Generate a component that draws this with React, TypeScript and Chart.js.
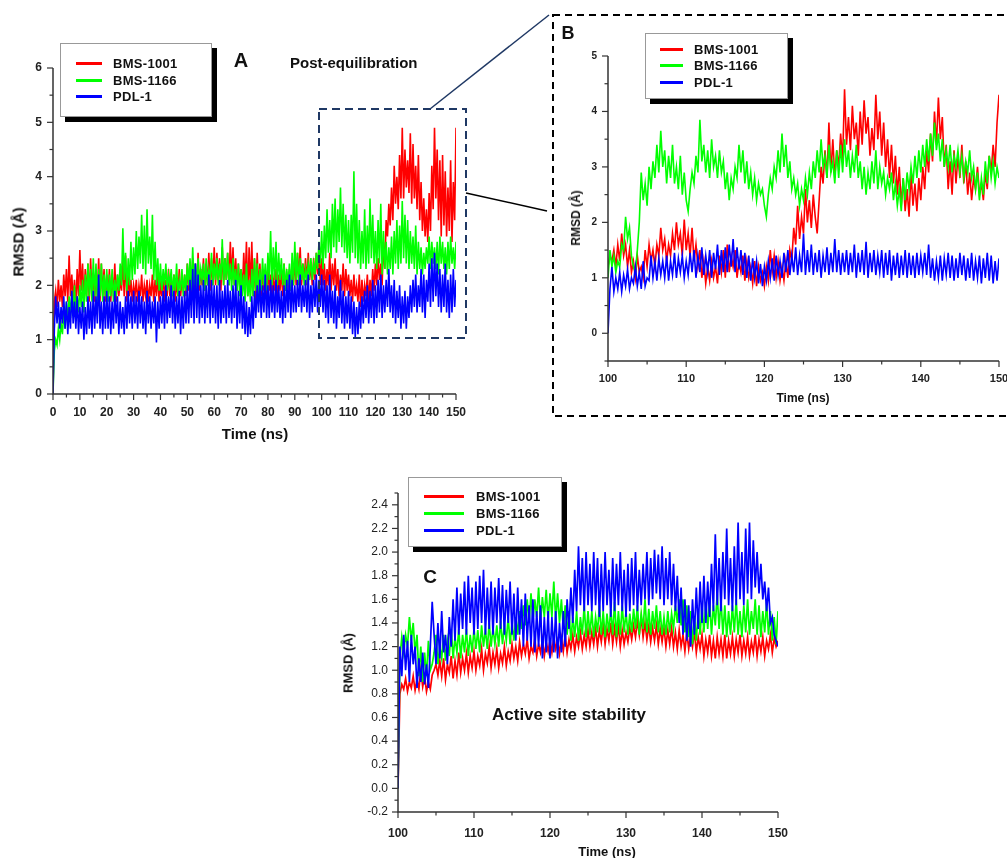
import React, { useEffect, useRef } from 'react';
import { Chart, registerables } from 'chart.js';
Chart.register(...registerables);

// ---------- names / colours ----------
const seriesNames = ['BMS-1001', 'BMS-1166', 'PDL-1'];
const seriesColors = ['#ff0000', '#00ff00', '#0000ff'];

// ---------- Panel A : 0-150 ns, sampled every 0.5 ns ----------
const stepA = 0.5;
const startA = 0;
const rmsdA_BMS1001 = [
  0,
  1.7, 1.9, 1.6, 2.1, 1.7, 2.0, 1.6, 2.2, 1.8, 2.3, 1.7, 2.55, 1.8, 2.2, 1.7, 2.1, 1.6, 2.3, 1.8, 2.65,
  1.9, 2.4, 1.7, 2.3, 1.8, 2.4, 1.7, 2.5, 1.8, 2.2, 1.7, 2.3, 1.8, 2.5, 1.7, 2.4, 1.8, 2.3, 1.7, 2.2,
  1.8, 2.3, 1.7, 2.2, 1.8, 2.4, 1.7, 2.2, 1.8, 2.1, 1.9, 2.5, 1.8, 2.55, 1.7, 2.2, 1.8, 2.1, 1.7, 2.0,
  1.8, 2.1, 1.7, 2.0, 1.8, 2.2, 1.7, 2.0, 1.8, 2.1, 1.7, 2.0, 1.8, 2.2, 1.7, 2.1, 1.8, 2.2, 1.7, 2.0,
  1.8, 2.2, 1.7, 2.1, 1.8, 2.3, 1.8, 2.1, 1.9, 2.2, 1.7, 2.1, 1.8, 2.3, 1.8, 2.1, 1.9, 2.2, 1.8, 2.4,
  1.9, 2.3, 1.8, 2.5, 1.9, 2.4, 1.8, 2.6, 1.9, 2.3, 2.0, 2.5, 1.9, 2.4, 2.0, 2.6, 1.9, 2.5, 2.0, 2.7,
  2.0, 2.6, 2.1, 2.5, 1.9, 2.7, 2.0, 2.5, 2.1, 2.6, 2.0, 2.8, 2.1, 2.7, 2.0, 2.5, 1.9, 2.4, 2.0, 2.3,
  1.9, 2.6, 2.0, 2.8, 1.8, 2.7, 1.9, 2.8, 1.8, 2.5, 1.7, 2.6, 1.9, 2.4, 1.8, 2.3, 1.9, 2.2, 1.8, 2.3,
  1.9, 2.2, 1.8, 2.1, 1.9, 2.3, 1.8, 2.2, 1.9, 2.3, 1.8, 2.4, 1.9, 2.2, 2.0, 2.3, 1.9, 2.4, 2.0, 2.5,
  2.0, 2.6, 2.1, 2.7, 2.0, 2.4, 2.1, 2.5, 2.0, 2.6, 2.1, 2.4, 2.0, 2.5, 2.1, 2.6, 2.2, 2.7, 2.0, 2.5,
  2.0, 2.4, 1.9, 2.3, 2.0, 2.6, 1.9, 2.4, 2.0, 2.5, 1.9, 2.3, 1.8, 2.2, 1.9, 2.4, 1.8, 2.3, 1.9, 2.2,
  1.8, 2.1, 1.7, 2.2, 1.8, 2.0, 1.7, 2.2, 1.6, 2.1, 1.7, 2.0, 1.8, 2.2, 1.7, 2.1, 1.8, 2.3, 1.9, 2.4,
  2.0, 2.5, 2.1, 2.4, 2.0, 2.8, 2.3, 3.2, 2.9, 3.5, 3.1, 3.8, 3.2, 4.2, 3.5, 4.0, 3.4, 4.4, 3.6, 4.9,
  3.6, 4.5, 3.8, 4.3, 3.7, 4.8, 3.5, 4.6, 3.6, 4.2, 3.4, 4.4, 3.2, 3.9, 3.0, 3.6, 2.9, 3.4, 2.8, 3.7,
  3.0, 4.2, 3.4, 4.9, 3.6, 4.5, 3.2, 4.3, 2.9, 4.4, 3.1, 4.1, 2.9, 3.8, 3.0, 4.3, 2.8, 3.9, 3.2, 4.9,
];
const rmsdA_BMS1166 = [
  0,
  0.8, 1.0, 0.9, 1.2, 1.0, 1.3, 1.1, 1.5, 1.2, 1.7, 1.3, 1.8, 1.4, 1.9, 1.5, 2.0, 1.4, 1.8, 1.5, 2.0,
  1.6, 2.1, 1.5, 2.2, 1.7, 2.4, 1.8, 2.3, 1.7, 2.5, 1.8, 2.4, 1.7, 2.3, 1.8, 2.4, 1.7, 2.2, 1.8, 2.3,
  1.7, 2.2, 1.8, 2.3, 1.7, 2.1, 1.8, 2.2, 1.9, 2.4, 2.0, 3.05, 2.1, 2.6, 1.9, 2.5, 2.0, 2.8, 2.1, 2.7,
  2.2, 3.0, 2.3, 2.9, 2.4, 3.3, 2.3, 3.1, 2.2, 3.4, 2.4, 2.9, 2.3, 3.3, 2.1, 2.8, 2.0, 2.5, 1.9, 2.4,
  1.9, 2.3, 2.0, 2.4, 1.9, 2.2, 2.0, 2.3, 1.8, 2.2, 1.9, 2.4, 1.8, 2.1, 1.9, 2.3, 1.8, 2.2, 1.9, 2.4,
  2.0, 2.5, 1.9, 2.7, 2.0, 2.4, 1.9, 2.5, 2.0, 2.3, 2.1, 2.4, 1.9, 2.5, 2.0, 2.3, 2.1, 2.6, 2.0, 2.4,
  2.1, 2.5, 2.0, 2.4, 2.1, 2.85, 2.0, 2.5, 2.1, 2.6, 2.0, 2.4, 1.9, 2.5, 2.0, 2.3, 1.9, 2.4, 1.8, 2.3,
  1.8, 2.2, 1.7, 2.4, 1.8, 2.1, 1.7, 2.3, 1.8, 2.5, 1.9, 2.4, 1.8, 2.3, 1.9, 2.5, 2.0, 2.4, 1.9, 2.6,
  2.1, 3.0, 2.0, 2.7, 2.1, 2.8, 2.0, 2.6, 2.1, 2.5, 2.0, 2.4, 1.9, 2.3, 2.0, 2.4, 1.9, 2.6, 2.0, 2.8,
  2.1, 2.6, 2.0, 2.5, 2.1, 2.4, 2.0, 2.3, 2.1, 2.4, 2.2, 2.5, 2.1, 2.4, 2.2, 2.6, 2.3, 2.8, 2.4, 3.0,
  2.3, 3.1, 2.5, 3.4, 2.6, 3.2, 2.5, 3.5, 2.7, 3.6, 2.6, 3.4, 2.8, 3.8, 2.7, 3.5, 2.6, 3.3, 2.5, 3.2,
  2.4, 3.3, 2.6, 4.1, 2.5, 3.5, 2.4, 3.2, 2.3, 3.0, 2.4, 3.4, 2.3, 3.1, 2.4, 3.6, 2.5, 3.3, 2.4, 3.0,
  2.3, 3.2, 2.4, 3.5, 2.2, 3.0, 2.3, 2.8, 2.2, 2.7, 2.3, 2.9, 2.2, 3.0, 2.4, 3.2, 2.3, 3.1, 2.4, 3.55,
  2.5, 3.3, 2.4, 3.2, 2.3, 3.0, 2.4, 2.9, 2.3, 3.1, 2.2, 2.8, 2.3, 2.7, 2.2, 2.6, 2.3, 2.7, 2.4, 2.9,
  2.3, 2.8, 2.4, 2.7, 2.3, 2.8, 2.2, 2.9, 2.4, 2.8, 2.3, 2.7, 2.2, 2.8, 2.3, 2.9, 2.4, 2.7, 2.3, 2.8,
];
const rmsdA_PDL1 = [
  0,
  1.2, 1.8, 1.3, 1.7, 1.2, 1.6, 1.3, 1.8, 1.2, 1.7, 1.1, 1.6, 1.2, 1.9, 1.3, 1.7, 1.2, 1.8, 1.1, 1.6,
  1.2, 1.7, 1.0, 1.6, 1.1, 1.8, 1.2, 1.7, 1.1, 1.9, 1.2, 1.8, 1.3, 2.2, 1.2, 1.7, 1.1, 1.8, 1.2, 1.9,
  1.2, 1.8, 1.1, 1.7, 1.2, 1.9, 1.3, 1.8, 1.1, 1.7, 1.2, 1.6, 1.1, 1.8, 1.2, 1.9, 1.3, 1.8, 1.2, 1.9,
  1.3, 1.8, 1.2, 1.9, 1.3, 1.8, 1.2, 1.7, 1.1, 1.9, 1.3, 1.8, 1.2, 1.7, 1.3, 1.8, 0.95, 1.7, 1.2, 1.8,
  1.3, 1.9, 1.2, 2.0, 1.3, 1.8, 1.4, 2.0, 1.3, 1.9, 1.2, 1.8, 1.3, 1.9, 1.1, 1.8, 1.2, 1.9, 1.3, 2.0,
  1.3, 2.1, 1.4, 2.3, 1.3, 2.4, 1.4, 2.2, 1.3, 2.0, 1.4, 2.1, 1.3, 2.0, 1.4, 2.2, 1.3, 2.1, 1.4, 2.0,
  1.3, 2.0, 1.2, 2.1, 1.3, 1.9, 1.4, 2.0, 1.3, 2.1, 1.4, 1.9, 1.3, 2.0, 1.4, 2.1, 1.2, 1.9, 1.3, 2.0,
  1.2, 1.8, 1.1, 1.7, 1.05, 1.6, 1.1, 1.8, 1.2, 1.9, 1.4, 2.0, 1.5, 2.1, 1.4, 2.0, 1.5, 2.2, 1.4, 2.0,
  1.4, 2.1, 1.5, 2.0, 1.4, 2.1, 1.5, 2.0, 1.4, 1.9, 1.3, 2.0, 1.4, 2.1, 1.5, 2.2, 1.4, 2.1, 1.5, 2.0,
  1.5, 2.1, 1.6, 2.2, 1.5, 2.0, 1.6, 2.1, 1.5, 2.2, 1.4, 2.0, 1.5, 2.1, 1.6, 2.2, 1.5, 2.1, 1.6, 2.2,
  1.5, 2.1, 1.4, 2.0, 1.3, 2.2, 1.4, 1.9, 1.3, 2.0, 1.2, 1.8, 1.4, 2.1, 1.3, 1.9, 1.2, 1.8, 1.3, 1.9,
  1.2, 1.8, 1.1, 1.7, 1.05, 1.6, 1.1, 1.7, 1.2, 1.8, 1.3, 1.9, 1.4, 2.0, 1.3, 1.9, 1.4, 2.1, 1.3, 2.0,
  1.4, 2.1, 1.5, 2.2, 1.4, 2.0, 1.5, 2.1, 1.6, 2.3, 1.5, 2.0, 1.4, 2.1, 1.3, 1.9, 1.4, 2.0, 1.2, 1.8,
  1.3, 1.9, 1.2, 1.8, 1.4, 2.0, 1.5, 2.1, 1.6, 2.2, 1.5, 2.0, 1.6, 2.3, 1.5, 2.2, 1.4, 2.1, 1.7, 2.4,
  1.6, 2.5, 1.7, 2.6, 1.8, 2.4, 1.6, 2.3, 1.5, 2.2, 1.6, 2.4, 1.5, 2.1, 1.4, 2.2, 1.5, 2.3, 1.6, 2.1,
];

// ---------- Panel B : 100-150 ns, sampled every 0.25 ns ----------
const stepB = 0.25;
const startB = 100;
const rmsdB_BMS1001 = [
  1.2,
  1.4, 1.3, 1.5, 1.2, 1.6, 1.3, 1.8, 1.4, 1.6, 1.2, 1.5, 1.1, 1.3, 1.0, 1.4, 1.1, 1.2, 1.0, 1.5, 1.2,
  1.6, 1.3, 1.5, 1.2, 1.6, 1.4, 1.9, 1.5, 1.7, 1.3, 1.6, 1.4, 1.8, 1.5, 2.0, 1.6, 1.8, 1.4, 2.05, 1.5,
  1.8, 1.4, 1.9, 1.3, 1.6, 1.2, 1.5, 1.0, 1.3, 0.9, 1.2, 0.95, 1.3, 1.0, 1.2, 0.9, 1.4, 1.1, 1.5, 1.0,
  1.6, 1.1, 1.4, 1.2, 1.5, 1.0, 1.3, 1.1, 1.4, 0.95, 1.3, 1.0, 1.2, 0.9, 1.3, 0.85, 1.2, 0.95, 1.1, 0.85,
  1.2, 0.95, 1.5, 1.1, 1.4, 1.0, 1.3, 0.95, 1.2, 0.95, 1.3, 1.0, 1.5, 1.3, 1.9, 1.6, 2.3, 1.7, 2.1, 1.8,
  2.6, 2.0, 2.4, 1.9, 2.5, 2.1, 1.8, 2.4, 3.0, 2.7, 3.3, 2.8, 3.8, 2.9, 3.5, 2.8, 3.3, 3.0, 3.6, 3.1,
  4.4, 3.4, 3.9, 3.3, 4.1, 3.5, 3.8, 3.2, 4.0, 3.4, 4.2, 3.6, 3.9, 3.2, 3.7, 3.3, 4.3, 3.5, 4.0, 3.2,
  3.8, 3.0, 3.5, 2.8, 3.4, 2.7, 3.2, 2.5, 3.0, 2.3, 2.8, 2.2, 2.6, 2.1, 2.9, 2.3, 2.7, 2.2, 2.8, 2.4,
  3.0, 2.6, 3.3, 2.9, 3.6, 3.1, 4.0, 3.4, 4.25, 3.5, 3.9, 3.0, 3.4, 2.6, 3.1, 2.5, 3.3, 2.7, 3.2, 2.8,
  3.4, 2.7, 3.1, 2.5, 2.9, 2.4, 2.8, 2.6, 3.0, 2.5, 2.7, 2.4, 2.9, 2.6, 3.2, 2.9, 3.4, 3.0, 3.8, 4.3,
];
const rmsdB_BMS1166 = [
  1.0,
  1.5, 1.2, 1.4, 1.1, 1.3, 1.2, 1.6, 1.5, 2.1, 1.7, 1.9, 1.4, 1.2, 1.1, 1.5, 2.0, 2.9, 2.4, 2.7, 2.3,
  3.0, 2.6, 3.1, 2.8, 3.4, 2.9, 3.65, 3.0, 3.3, 2.7, 3.2, 2.8, 3.4, 2.7, 3.0, 2.6, 3.2, 2.5, 2.9, 2.4,
  2.2, 2.6, 2.9, 2.7, 3.2, 2.9, 3.85, 3.1, 3.4, 2.9, 3.3, 2.8, 3.5, 3.0, 3.2, 2.8, 3.3, 2.9, 3.1, 2.6,
  2.9, 2.4, 2.8, 2.6, 3.0, 2.8, 3.4, 2.9, 3.3, 2.7, 3.1, 2.6, 2.9, 2.5, 2.8, 2.4, 2.7, 2.5, 2.6, 2.3,
  2.1, 2.5, 2.8, 2.6, 3.0, 2.8, 3.3, 2.9, 3.6, 3.0, 3.4, 2.8, 3.1, 2.6, 2.8, 2.5, 2.7, 2.3, 2.6, 2.4,
  2.8, 2.5, 2.9, 2.6, 3.1, 2.8, 3.3, 2.9, 3.5, 3.0, 3.2, 2.8, 3.4, 2.9, 3.1, 2.7, 3.3, 2.8, 3.4, 2.9,
  3.5, 3.0, 3.3, 2.8, 3.2, 2.9, 3.4, 2.8, 3.1, 2.6, 3.0, 2.5, 2.9, 2.6, 3.1, 2.7, 3.3, 2.6, 3.0, 2.7,
  2.9, 2.5, 2.8, 2.6, 2.9, 2.4, 2.7, 2.3, 2.6, 2.2, 2.8, 2.4, 2.9, 2.6, 3.0, 2.7, 3.2, 2.8, 3.3, 2.9,
  3.4, 3.0, 3.5, 3.1, 3.6, 3.2, 3.8, 3.3, 3.6, 3.1, 3.5, 3.0, 3.3, 3.0, 3.4, 2.9, 3.2, 3.0, 3.3, 2.9,
  3.2, 2.8, 3.1, 2.9, 3.3, 2.8, 3.0, 2.6, 2.9, 2.4, 2.8, 2.5, 3.1, 2.7, 3.2, 2.8, 3.1, 2.7, 3.0, 2.8,
];
const rmsdB_PDL1 = [
  0,
  0.8, 1.2, 0.75, 1.0, 0.8, 1.1, 0.75, 1.05, 0.85, 1.15, 0.8, 1.0, 0.9, 1.2, 0.85, 1.1, 0.8, 1.3, 0.85, 1.0,
  0.95, 1.4, 1.0, 1.3, 0.95, 1.35, 1.05, 1.3, 1.0, 1.4, 0.95, 1.3, 1.05, 1.45, 1.0, 1.35, 1.1, 1.4, 1.0, 1.3,
  1.05, 1.45, 1.1, 1.5, 1.0, 1.4, 1.1, 1.55, 1.05, 1.4, 1.1, 1.5, 1.0, 1.45, 1.15, 1.6, 1.05, 1.5, 1.1, 1.55,
  1.1, 1.6, 1.2, 1.7, 1.1, 1.55, 1.15, 1.5, 1.05, 1.45, 1.0, 1.4, 0.95, 1.35, 1.0, 1.3, 0.9, 1.25, 0.85, 1.2,
  0.95, 1.3, 1.0, 1.35, 0.95, 1.4, 1.05, 1.3, 1.0, 1.45, 1.1, 1.5, 1.05, 1.4, 1.1, 1.55, 1.05, 1.4, 1.1, 1.8,
  1.05, 1.5, 1.1, 1.6, 1.05, 1.45, 1.1, 1.5, 1.0, 1.4, 1.1, 1.55, 1.05, 1.45, 1.1, 1.7, 1.1, 1.5, 1.05, 1.45,
  1.1, 1.5, 1.05, 1.45, 1.1, 1.6, 1.0, 1.45, 1.1, 1.5, 1.05, 1.65, 1.0, 1.45, 1.1, 1.5, 1.05, 1.4, 1.1, 1.5,
  1.0, 1.45, 1.05, 1.5, 0.95, 1.4, 1.05, 1.45, 1.0, 1.4, 1.05, 1.5, 1.0, 1.45, 1.05, 1.4, 1.0, 1.45, 1.05, 1.4,
  1.1, 1.45, 1.05, 1.6, 1.0, 1.35, 0.95, 1.3, 1.0, 1.4, 0.95, 1.35, 1.05, 1.45, 1.0, 1.4, 0.95, 1.35, 1.0, 1.45,
  1.05, 1.4, 0.95, 1.35, 1.0, 1.45, 0.95, 1.3, 1.0, 1.4, 0.9, 1.35, 1.0, 1.45, 0.95, 1.4, 0.9, 1.3, 0.95, 1.35,
];

// ---------- Panel C : active site, 100-150 ns, every 0.25 ns ----------
const stepC = 0.25;
const startC = 100;
const rmsdC_BMS1001 = [
  0,
  0.8, 0.88, 0.84, 0.93, 0.82, 0.9, 0.85, 0.95, 0.83, 0.92, 0.84, 1.0, 0.86, 0.95, 0.82, 0.9, 0.84, 0.96, 1.0, 1.05,
  0.96, 1.08, 0.95, 1.1, 0.92, 1.05, 0.98, 1.12, 0.93, 1.08, 0.96, 1.15, 0.98, 1.1, 1.0, 1.14, 0.98, 1.12, 1.02, 1.16,
  1.0, 1.12, 1.04, 1.18, 1.0, 1.14, 1.06, 1.2, 1.02, 1.15, 1.05, 1.18, 1.02, 1.14, 1.06, 1.2, 1.04, 1.16, 1.08, 1.22,
  1.1, 1.2, 1.08, 1.24, 1.12, 1.22, 1.14, 1.26, 1.1, 1.2, 1.15, 1.27, 1.12, 1.22, 1.15, 1.26, 1.12, 1.24, 1.16, 1.25,
  1.15, 1.28, 1.18, 1.25, 1.14, 1.27, 1.16, 1.3, 1.15, 1.26, 1.18, 1.3, 1.16, 1.28, 1.2, 1.32, 1.18, 1.3, 1.2, 1.34,
  1.2, 1.32, 1.22, 1.36, 1.2, 1.34, 1.24, 1.38, 1.22, 1.35, 1.25, 1.4, 1.22, 1.36, 1.24, 1.38, 1.2, 1.34, 1.22, 1.32,
  1.24, 1.36, 1.26, 1.38, 1.28, 1.42, 1.3, 1.45, 1.28, 1.4, 1.26, 1.38, 1.24, 1.36, 1.25, 1.38, 1.22, 1.35, 1.24, 1.36,
  1.2, 1.34, 1.22, 1.36, 1.2, 1.32, 1.18, 1.34, 1.2, 1.3, 1.16, 1.32, 1.18, 1.3, 1.2, 1.33, 1.15, 1.28, 1.18, 1.3,
  1.12, 1.26, 1.15, 1.3, 1.12, 1.25, 1.1, 1.28, 1.14, 1.26, 1.12, 1.3, 1.1, 1.25, 1.14, 1.28, 1.12, 1.26, 1.15, 1.3,
  1.12, 1.25, 1.14, 1.28, 1.12, 1.24, 1.15, 1.3, 1.12, 1.26, 1.16, 1.28, 1.12, 1.25, 1.18, 1.3, 1.15, 1.27, 1.2, 1.25,
];
const rmsdC_BMS1166 = [
  0,
  1.1, 1.28, 1.15, 1.3, 1.2, 1.45, 1.25, 1.4, 1.15, 1.3, 0.95, 1.2, 0.9, 1.15, 0.95, 1.25, 1.0, 1.05, 1.15, 1.3,
  1.05, 1.2, 1.1, 1.3, 1.08, 1.25, 1.12, 1.35, 1.1, 1.28, 1.15, 1.35, 1.1, 1.3, 1.15, 1.35, 1.12, 1.3, 1.15, 1.35,
  1.18, 1.34, 1.15, 1.38, 1.2, 1.35, 1.18, 1.4, 1.2, 1.36, 1.22, 1.38, 1.2, 1.42, 1.22, 1.38, 1.25, 1.45, 1.22, 1.4,
  1.25, 1.45, 1.3, 1.5, 1.35, 1.55, 1.38, 1.6, 1.4, 1.65, 1.42, 1.6, 1.45, 1.7, 1.4, 1.62, 1.45, 1.68, 1.42, 1.65,
  1.45, 1.75, 1.42, 1.65, 1.4, 1.6, 1.35, 1.55, 1.3, 1.5, 1.25, 1.45, 1.28, 1.5, 1.25, 1.45, 1.3, 1.55, 1.28, 1.5,
  1.3, 1.5, 1.28, 1.45, 1.32, 1.55, 1.3, 1.5, 1.28, 1.48, 1.32, 1.52, 1.3, 1.58, 1.28, 1.5, 1.3, 1.55, 1.32, 1.5,
  1.3, 1.48, 1.32, 1.52, 1.35, 1.55, 1.3, 1.48, 1.35, 1.6, 1.32, 1.52, 1.3, 1.5, 1.35, 1.55, 1.32, 1.5, 1.3, 1.45,
  1.3, 1.5, 1.32, 1.48, 1.35, 1.55, 1.4, 1.6, 1.38, 1.6, 1.32, 1.55, 1.28, 1.5, 1.22, 1.45, 1.25, 1.5, 1.3, 1.55,
  1.32, 1.58, 1.35, 1.6, 1.3, 1.55, 1.38, 1.65, 1.35, 1.6, 1.3, 1.55, 1.28, 1.5, 1.3, 1.55, 1.32, 1.6, 1.3, 1.5,
  1.28, 1.55, 1.32, 1.6, 1.3, 1.5, 1.35, 1.6, 1.3, 1.55, 1.28, 1.5, 1.32, 1.58, 1.3, 1.5, 1.25, 1.45, 1.22, 1.5,
];
const rmsdC_PDL1 = [
  0,
  1.2, 0.95, 1.3, 1.0, 1.25, 0.9, 1.3, 1.05, 1.2, 0.85, 1.1, 0.9, 1.15, 0.88, 1.05, 0.85, 1.2, 1.58, 1.3, 1.05,
  1.4, 1.1, 1.5, 1.15, 1.3, 1.05, 1.45, 1.2, 1.6, 1.25, 1.7, 1.3, 1.65, 1.35, 1.75, 1.3, 1.8, 1.4, 1.7, 1.3,
  1.75, 1.35, 1.8, 1.4, 1.85, 1.3, 1.7, 1.35, 1.75, 1.3, 1.7, 1.4, 1.78, 1.35, 1.72, 1.3, 1.68, 1.4, 1.75, 1.3,
  1.65, 1.25, 1.7, 1.3, 1.6, 1.2, 1.65, 1.25, 1.55, 1.2, 1.6, 1.15, 1.5, 1.2, 1.55, 1.1, 1.45, 1.15, 1.5, 1.1,
  1.45, 1.15, 1.5, 1.1, 1.4, 1.15, 1.5, 1.2, 1.6, 1.35, 1.7, 1.4, 1.85, 1.5, 2.05, 1.55, 1.95, 1.5, 2.0, 1.55,
  1.9, 1.5, 2.0, 1.55, 1.95, 1.45, 1.9, 1.5, 2.0, 1.55, 1.85, 1.45, 1.95, 1.5, 1.9, 1.55, 2.0, 1.5, 1.85, 1.45,
  1.9, 1.5, 1.95, 1.55, 2.0, 1.5, 1.85, 1.55, 1.9, 1.6, 2.0, 1.55, 1.95, 1.6, 2.02, 1.65, 1.98, 1.6, 2.05, 1.55,
  1.95, 1.6, 2.0, 1.55, 1.9, 1.5, 1.8, 1.4, 1.7, 1.3, 1.6, 1.25, 1.55, 1.2, 1.6, 1.3, 1.7, 1.35, 1.75, 1.4,
  1.8, 1.4, 1.75, 1.45, 1.9, 1.5, 2.15, 1.55, 1.95, 1.5, 2.0, 1.6, 2.2, 1.55, 1.95, 1.5, 2.05, 1.55, 2.25, 1.6,
  2.0, 1.55, 2.2, 1.65, 2.25, 1.6, 2.1, 1.7, 2.0, 1.65, 1.9, 1.6, 1.75, 1.5, 1.7, 1.4, 1.45, 1.3, 1.25, 1.2,
];

// ---------- tick labels ----------
const xTicksA = [0, 10, 20, 30, 40, 50, 60, 70, 80, 90, 100, 110, 120, 130, 140, 150];
const yTicksA = [0, 1, 2, 3, 4, 5, 6];
const xTicksB = [100, 110, 120, 130, 140, 150];
const yTicksB = [0, 1, 2, 3, 4, 5];
const xTicksC = [100, 110, 120, 130, 140, 150];
const yTicksC = [-0.2, 0, 0.2, 0.4, 0.6, 0.8, 1.0, 1.2, 1.4, 1.6, 1.8, 2.0, 2.2, 2.4];

type Panel = {
  left: number; top: number; width: number; height: number;
  area: { l: number; t: number; r: number; b: number };
  xMin: number; xMax: number; yMin: number; yMax: number;
  xTicks: number[]; yTicks: number[];
  xMinor: number; yMinor: number; xMajor: number; yMajor: number;
  xFont: number; yFont: number; xBold: boolean; yBold: boolean; xPad: number; yPad: number;
  yDecimals: number; lineW: number;
  series: number[][]; t0: number; dt: number;
};

const panelA: Panel = {
  left: 0, top: 0, width: 480, height: 445,
  area: { l: 53, t: 68, r: 456, b: 394 },
  xMin: 0, xMax: 150, yMin: 0, yMax: 6,
  xTicks: xTicksA, yTicks: yTicksA, xMinor: 5, yMinor: 0.5, xMajor: 10, yMajor: 1,
  xFont: 12, yFont: 12, xBold: true, yBold: true, xPad: 3, yPad: 3, yDecimals: 0, lineW: 1.6,
  series: [rmsdA_BMS1001, rmsdA_BMS1166, rmsdA_PDL1], t0: startA, dt: stepA,
};
const panelB: Panel = {
  left: 560, top: 20, width: 480, height: 400,
  area: { l: 48, t: 36, r: 439, b: 341 },
  xMin: 100, xMax: 150, yMin: -0.5, yMax: 5,
  xTicks: xTicksB, yTicks: yTicksB, xMinor: 5, yMinor: 0.5, xMajor: 10, yMajor: 1,
  xFont: 11, yFont: 10, xBold: true, yBold: true, xPad: 3, yPad: 3, yDecimals: 0, lineW: 1.6,
  series: [rmsdB_BMS1001, rmsdB_BMS1166, rmsdB_PDL1], t0: startB, dt: stepB,
};
const panelC: Panel = {
  left: 330, top: 470, width: 470, height: 388,
  area: { l: 68, t: 23, r: 448, b: 342 },
  xMin: 100, xMax: 150, yMin: -0.2, yMax: 2.5,
  xTicks: xTicksC, yTicks: yTicksC, xMinor: 5, yMinor: 0.1, xMajor: 10, yMajor: 0.2,
  xFont: 12, yFont: 12, xBold: true, yBold: false, xPad: 6, yPad: 2, yDecimals: 1, lineW: 1.7,
  series: [rmsdC_BMS1001, rmsdC_BMS1166, rmsdC_PDL1], t0: startC, dt: stepC,
};

function axisPlugin(p: Panel) {
  return {
    id: 'originAxes',
    afterDatasetsDraw(chart: any) {
      const { ctx, chartArea } = chart;
      const xs = chart.scales.x;
      const ys = chart.scales.y;
      ctx.save();
      ctx.strokeStyle = '#333';
      ctx.lineWidth = 1.5;
      ctx.beginPath();
      ctx.moveTo(chartArea.left, chartArea.top);
      ctx.lineTo(chartArea.left, chartArea.bottom);
      ctx.lineTo(chartArea.right, chartArea.bottom);
      ctx.stroke();
      ctx.lineWidth = 1.2;
      const nx = Math.round((p.xMax - p.xMin) / p.xMinor);
      for (let i = 0; i <= nx; i++) {
        const v = p.xMin + i * p.xMinor;
        const r = v / p.xMajor;
        const major = Math.abs(r - Math.round(r)) < 1e-6;
        const px = xs.getPixelForValue(v);
        ctx.beginPath();
        ctx.moveTo(px, chartArea.bottom);
        ctx.lineTo(px, chartArea.bottom + (major ? 6 : 3.5));
        ctx.stroke();
      }
      const ny = Math.round((p.yMax - p.yMin) / p.yMinor);
      for (let i = 0; i <= ny; i++) {
        const v = p.yMin + i * p.yMinor;
        const r = v / p.yMajor;
        const major = Math.abs(r - Math.round(r)) < 1e-6;
        const py = ys.getPixelForValue(v);
        ctx.beginPath();
        ctx.moveTo(chartArea.left, py);
        ctx.lineTo(chartArea.left - (major ? 6 : 3.5), py);
        ctx.stroke();
      }
      ctx.restore();
    },
  };
}

const FONT = 'Arial, "Liberation Sans", sans-serif';

function PanelChart({ p }: { p: Panel }) {
  const ref = useRef<HTMLCanvasElement>(null);
  useEffect(() => {
    const canvas = ref.current!;
    const chart = new Chart(canvas, {
      type: 'line',
      data: {
        datasets: p.series.map((vals, i) => ({
          label: seriesNames[i],
          data: vals.map((v, k) => ({ x: p.t0 + k * p.dt, y: v })),
          borderColor: seriesColors[i],
          backgroundColor: seriesColors[i],
          borderWidth: p.lineW,
          pointRadius: 0,
          tension: 0,
          fill: false,
          order: 2 - i,
        })),
      },
      options: {
        responsive: false,
        animation: false,
        devicePixelRatio: 1,
        layout: { padding: { left: 0, top: p.area.t, right: p.width - p.area.r, bottom: 0 } },
        plugins: { legend: { display: false }, tooltip: { enabled: false } },
        scales: {
          x: {
            type: 'linear', min: p.xMin, max: p.xMax,
            grid: { display: false }, border: { display: false },
            ticks: {
              autoSkip: false, maxRotation: 0, padding: p.xPad, color: '#222',
              font: { family: FONT, size: p.xFont, weight: p.xBold ? 'bold' : 'normal' },
              callback: (v: any) => String(v),
            },
            afterBuildTicks: (s: any) => { s.ticks = p.xTicks.map((v) => ({ value: v })); },
            afterFit: (s: any) => { s.height = p.height - p.area.b; },
          },
          y: {
            type: 'linear', min: p.yMin, max: p.yMax,
            grid: { display: false }, border: { display: false },
            ticks: {
              autoSkip: false, padding: p.yPad, color: '#222',
              font: { family: FONT, size: p.yFont, weight: p.yBold ? 'bold' : 'normal' },
              callback: (v: any) => Number(v).toFixed(p.yDecimals),
            },
            afterBuildTicks: (s: any) => { s.ticks = p.yTicks.map((v) => ({ value: v })); },
            afterFit: (s: any) => { s.width = p.area.l; },
          },
        },
      } as any,
      plugins: [axisPlugin(p)],
    });
    return () => chart.destroy();
  }, []);
  return (
    <canvas
      ref={ref}
      width={p.width}
      height={p.height}
      style={{ position: 'absolute', left: p.left, top: p.top, width: p.width, height: p.height }}
    />
  );
}

function Legend({ left, top, width, height, lineX, lineW, textX, rows, size }: any) {
  return (
    <div style={{ position: 'absolute', left, top, width, height, background: '#fff', border: '1px solid #999', boxShadow: '5px 5px 0 #000', boxSizing: 'border-box' }}>
      {seriesNames.map((n, i) => (
        <React.Fragment key={n}>
          <div style={{ position: 'absolute', left: lineX, top: rows[i] - 1.5, width: lineW, height: 3, background: seriesColors[i] }} />
          <div style={{ position: 'absolute', left: textX, top: rows[i], transform: 'translateY(-50%)', font: `bold ${size}px ${FONT}`, color: '#111', lineHeight: 1, whiteSpace: 'nowrap', letterSpacing: '0.3px' }}>{n}</div>
        </React.Fragment>
      ))}
    </div>
  );
}

function Label({ x, y, text, size, bold = true, rotate = false, color = '#111' }: any) {
  return (
    <div style={{
      position: 'absolute', left: x, top: y,
      transform: `translate(-50%, -50%)${rotate ? ' rotate(-90deg)' : ''}`,
      font: `${bold ? 'bold ' : ''}${size}px ${FONT}`, color, whiteSpace: 'nowrap', lineHeight: 1,
    }}>{text}</div>
  );
}

export default function App() {
  return (
    <div style={{ position: 'absolute', left: 0, top: 0, width: 1007, height: 858, overflow: 'hidden', background: '#fff' }}>
      <PanelChart p={panelA} />
      <PanelChart p={panelB} />
      <PanelChart p={panelC} />

      <Legend left={60} top={43} width={152} height={74} lineX={15} lineW={26} textX={52} rows={[19, 36, 52]} size={13} />
      <Legend left={645} top={33} width={143} height={66} lineX={14} lineW={23} textX={48} rows={[15, 31, 48]} size={13} />
      <Legend left={408} top={477} width={154} height={70} lineX={15} lineW={40} textX={67} rows={[18, 35, 52]} size={13} />

      <Label x={241} y={60} text="A" size={20} />
      <div style={{ position: 'absolute', left: 290, top: 62, transform: 'translateY(-50%)', font: `bold 15px ${FONT}`, color: '#111', lineHeight: 1, whiteSpace: 'nowrap' }}>Post-equilibration</div>
      <Label x={568} y={33} text="B" size={18} />
      <Label x={430} y={576} text="C" size={19} />
      <Label x={569} y={714} text="Active site stability" size={17} />

      <Label x={18} y={242} text="RMSD (Å)" size={15} rotate />
      <Label x={255} y={433} text="Time (ns)" size={15} />
      <Label x={576} y={218} text="RMSD (Å)" size={12} rotate />
      <Label x={803} y={398} text="Time (ns)" size={12} />
      <Label x={348} y={663} text="RMSD (Å)" size={13} rotate />
      <Label x={607} y={851} text="Time (ns)" size={13} />

      <svg width={1007} height={858} style={{ position: 'absolute', left: 0, top: 0, pointerEvents: 'none' }}>
        <rect x={319} y={109} width={147} height={229} fill="none" stroke="#1f3864" strokeWidth={2} strokeDasharray="8 5" />
        <rect x={553} y={15} width={470} height={401} fill="none" stroke="#000" strokeWidth={2} strokeDasharray="7 5" />
        <line x1={430} y1={109} x2={549} y2={15} stroke="#1f3864" strokeWidth={1.5} />
        <line x1={466} y1={193} x2={547} y2={211} stroke="#000" strokeWidth={1.5} />
      </svg>
    </div>
  );
}
